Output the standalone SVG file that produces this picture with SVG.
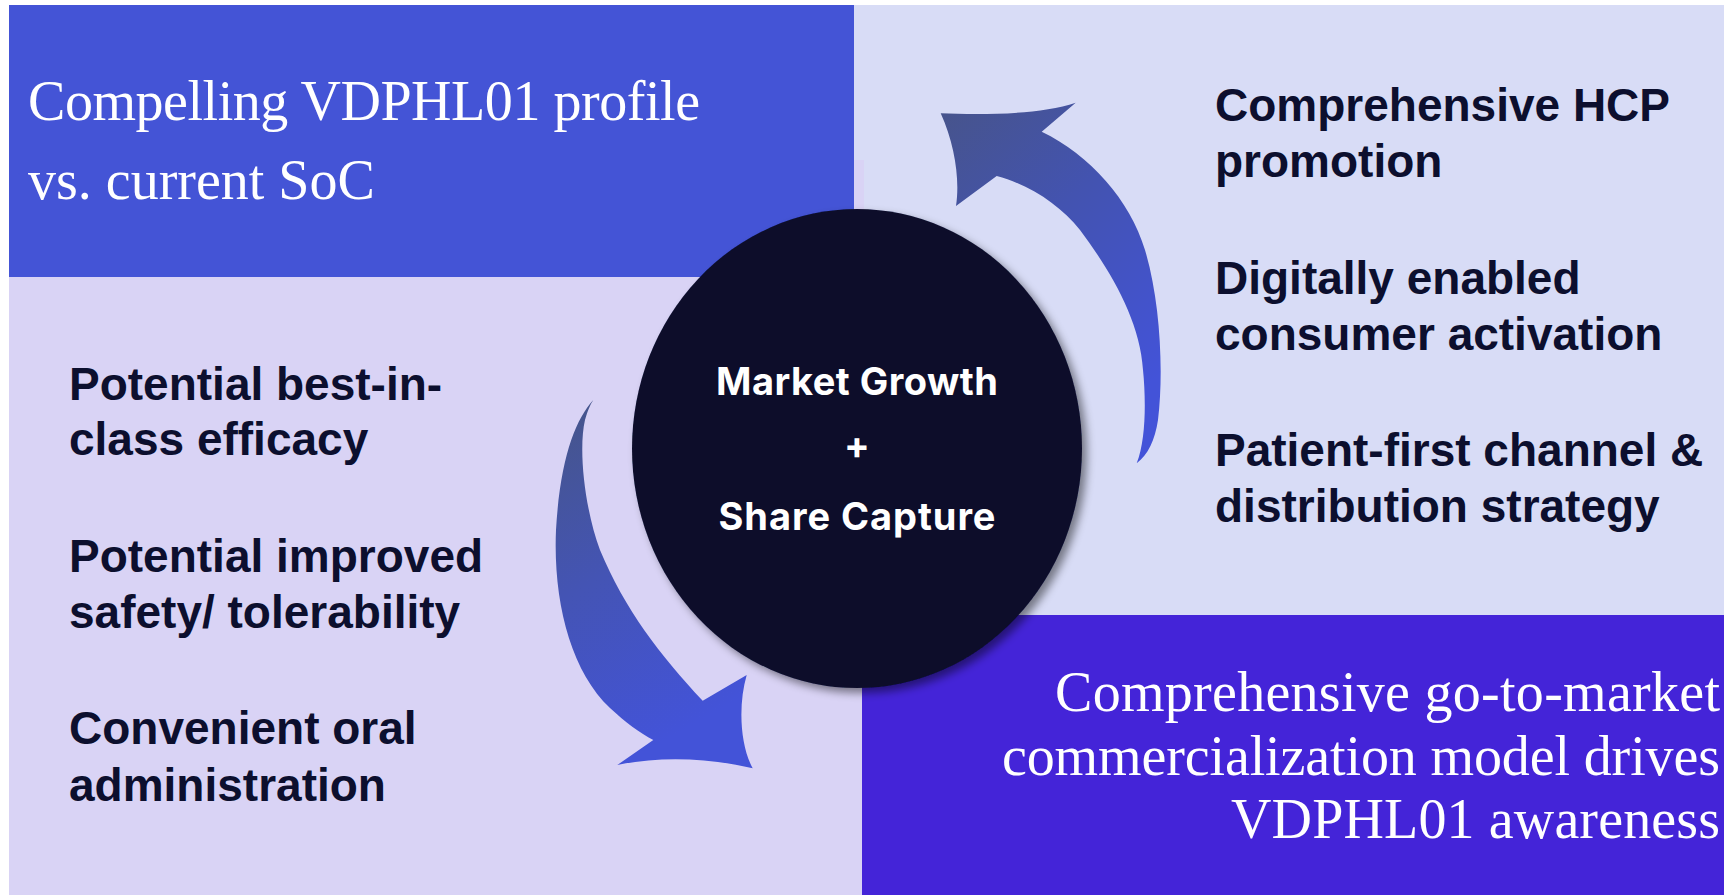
<svg xmlns="http://www.w3.org/2000/svg" width="1724" height="895" viewBox="0 0 1724 895">
  <defs>
    <style>
      .head { font-family: "Liberation Serif", "Times New Roman", serif; font-size: 56px; fill: #ffffff; }
      .item { font-family: "Liberation Sans", Arial, sans-serif; font-size: 46px; font-weight: 700; fill: #0c0f2e; }
      .hub-text { font-family: Inter, "Liberation Sans", Arial, sans-serif; font-size: 38px; font-weight: 700; fill: #ffffff; text-anchor: middle; }
    </style>
    <linearGradient id="grad-up" x1="0" y1="0" x2="0.55" y2="1">
      <stop offset="0" stop-color="#47548a"/>
      <stop offset="0.45" stop-color="#4353b0"/>
      <stop offset="1" stop-color="#4353d8"/>
    </linearGradient>
    <linearGradient id="grad-down" x1="0" y1="0" x2="0.3" y2="1">
      <stop offset="0" stop-color="#465588"/>
      <stop offset="0.5" stop-color="#4454b4"/>
      <stop offset="1" stop-color="#4353d8"/>
    </linearGradient>
    <filter id="hub-shadow" x="-10%" y="-10%" width="125%" height="125%">
      <feDropShadow dx="5" dy="5" stdDeviation="4" flood-color="#000000" flood-opacity="0.45"/>
    </filter>
  </defs>

  <rect width="1724" height="895" fill="#ffffff"/>

  <!-- upper-right panel: channel strategy -->
  <g id="panel-channels">
    <rect x="854" y="5" width="870" height="612" fill="#d8dcf6"/>
    <text class="item" x="1215" y="121">Comprehensive HCP</text>
    <text class="item" x="1215" y="177">promotion</text>
    <text class="item" x="1215" y="294">Digitally enabled</text>
    <text class="item" x="1215" y="350">consumer activation</text>
    <text class="item" x="1215" y="466">Patient-first channel &amp;</text>
    <text class="item" x="1215" y="522">distribution strategy</text>
  </g>

  <!-- lower-left panel: product attributes -->
  <g id="panel-attributes">
    <rect x="9" y="160" width="855" height="735" fill="#d9d3f5"/>
    <text class="item" x="69" y="400">Potential best-in-</text>
    <text class="item" x="69" y="455">class efficacy</text>
    <text class="item" x="69" y="572">Potential improved</text>
    <text class="item" x="69" y="628">safety/ tolerability</text>
    <text class="item" x="69" y="744">Convenient oral</text>
    <text class="item" x="69" y="801">administration</text>
  </g>

  <!-- upper-left header panel -->
  <g id="panel-profile">
    <rect x="9" y="5" width="845" height="272" fill="#4454d6"/>
    <text class="head" x="28" y="120" textLength="672">Compelling VDPHL01 profile</text>
    <text class="head" x="28" y="199">vs. current SoC</text>
  </g>

  <!-- lower-right header panel -->
  <g id="panel-gtm">
    <rect x="862" y="615" width="862" height="280" fill="#4424d8"/>
    <g text-anchor="end">
      <text class="head" x="1720" y="711" textLength="665">Comprehensive go-to-market</text>
      <text class="head" x="1720" y="775" textLength="718">commercialization model drives</text>
      <text class="head" x="1720" y="838" textLength="489">VDPHL01 awareness</text>
    </g>
  </g>

  <!-- curved cycle arrows -->
  <g id="connectors">
    <path id="arrow-up" fill="url(#grad-up)" d="M 940.7,113.3 C 980,115 1040,115 1075.7,102.7 L 1041.7,131.7 C 1090,155 1130,200 1145,250 C 1160,300 1164,370 1158,420 C 1155,440 1148,455 1136.7,463.3 C 1146,440 1146,400 1143,370 C 1140,320 1110,270 1080,230 C 1060,205 1030,185 996.7,176 L 956,206 C 960,180 955,145 940.7,113.3 Z"/>
    <path id="arrow-down" fill="url(#grad-down)" d="M 593.3,400 C 575,420 560,460 556,530 C 553,600 570,670 610,708 C 625,722 640,733 653.3,740 L 617.3,765 C 660,756 710,758 752.7,768.3 C 740,745 738,705 746.7,675 L 702.7,700.7 C 660,655 625,610 600,550 C 585,510 578,450 585,420 C 588,410 590,405 593.3,400 Z"/>
  </g>

  <!-- central hub -->
  <g id="hub">
    <ellipse cx="857" cy="448.5" rx="225" ry="239.5" fill="#0a0c2c" filter="url(#hub-shadow)"/>
    <text class="hub-text" x="857" y="395" textLength="282">Market Growth</text>
    <text class="hub-text" x="857" y="459">+</text>
    <text class="hub-text" x="857" y="530" textLength="277">Share Capture</text>
  </g>
</svg>
